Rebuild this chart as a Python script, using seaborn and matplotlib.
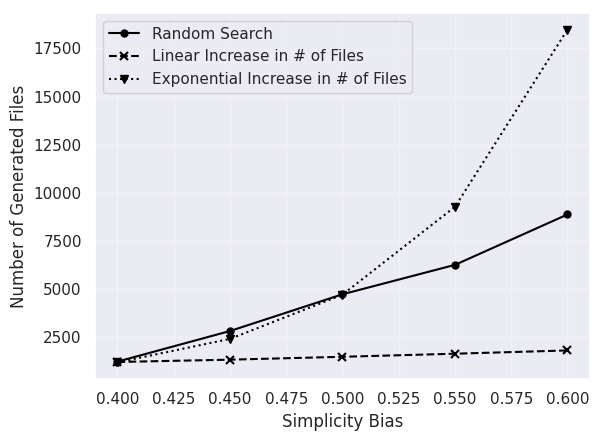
import matplotlib
matplotlib.use("Agg")
import matplotlib.pyplot as plt
import pandas as pd
import seaborn as sns

sns.set_theme(style="darkgrid", rc={"axes.facecolor": "#EBEBF3",
                                    "grid.color": "#F1F1F7"})

simplicity_bias = [0.40, 0.45, 0.50, 0.55, 0.60]
random_search = [1220, 2810, 4720, 6250, 8870]
linear_increase = [1200, 1320, 1470, 1630, 1800]
exponential_increase = [1180, 2400, 4700, 9270, 18480]

series = [
    ("Random Search", random_search, "o", "-", 5, 1),
    ("Linear Increase in # of Files", linear_increase, "x", "--", 6, 1.5),
    ("Exponential Increase in # of Files", exponential_increase, "v", ":", 6, 1),
]

fig, ax = plt.subplots(figsize=(6, 4.41), dpi=100)

for name, values, marker, ls, ms, mew in series:
    df = pd.DataFrame({"bias": simplicity_bias, "files": values})
    sns.lineplot(data=df, x="bias", y="files", ax=ax, color="black",
                 marker=marker, linestyle=ls, label=name, markersize=ms,
                 markeredgecolor="black", markeredgewidth=mew)

ax.set_xlabel("Simplicity Bias")
ax.set_ylabel("Number of Generated Files")
ax.set_xticks([0.4, 0.425, 0.45, 0.475, 0.5, 0.525, 0.55, 0.575, 0.6])
ax.set_xticklabels(["0.400", "0.425", "0.450", "0.475", "0.500",
                    "0.525", "0.550", "0.575", "0.600"])
ax.legend(loc="upper left")

fig.subplots_adjust(left=95 / 600, right=590 / 600,
                    top=1 - 13 / 441, bottom=1 - 379 / 441)
fig.savefig("out.png", dpi=100)
